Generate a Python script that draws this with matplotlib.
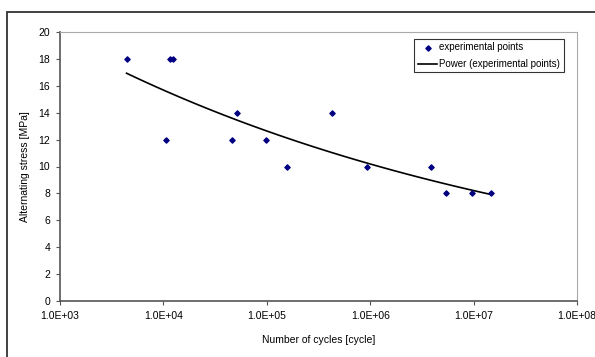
import numpy as np
import matplotlib.pyplot as plt
from matplotlib.patches import Rectangle

plt.rcParams['font.family'] = ['Liberation Sans', 'DejaVu Sans']

# experimental points
cycles = [4.4e3, 1.06e4, 1.16e4, 1.24e4, 4.6e4, 5.2e4, 9.8e4, 1.58e5,
          4.3e5, 9.4e5, 3.85e6, 5.4e6, 9.7e6, 1.48e7]
stress = [18, 12, 18, 18, 12, 14, 12, 10, 14, 10, 10, 8, 8, 8]

x_ticks = [1e3, 1e4, 1e5, 1e6, 1e7, 1e8]
x_labels = ["1.0E+03", "1.0E+04", "1.0E+05", "1.0E+06", "1.0E+07", "1.0E+08"]
y_ticks = [0, 2, 4, 6, 8, 10, 12, 14, 16, 18, 20]

# power trendline like Excel: ln y = ln a + b ln x
b, ln_a = np.polyfit(np.log(cycles), np.log(stress), 1)
xf = np.logspace(np.log10(min(cycles)), np.log10(max(cycles)), 100)
yf = np.exp(ln_a) * xf ** b

fig = plt.figure(figsize=(5.95, 3.57), dpi=100)
ax = fig.add_axes([60 / 595, 1 - 301 / 357, 517 / 595, 269 / 357])

# outer chart border (cropped on the right and bottom)
fig.patches.append(Rectangle((7 / 595, -0.1), 1.2, 1 - 12 / 357 + 0.1,
                             transform=fig.transFigure, fill=False,
                             edgecolor="#333333", linewidth=1.3))

ax.scatter(cycles, stress, marker="D", s=7, color="#000080", zorder=3,
           label="experimental points")
ax.plot(xf, yf, color="black", linewidth=1.2, label="Power (experimental points)")

ax.set_xscale("log")
ax.set_xlim(1e3, 1e8)
ax.set_ylim(0, 20)
ax.set_xticks(x_ticks)
ax.set_xticklabels(x_labels)
ax.xaxis.set_minor_locator(plt.NullLocator())
ax.set_yticks(y_ticks)
ax.tick_params(labelsize=7.5, length=3, width=0.8, color="#555555", pad=4)

for side in ["top", "right"]:
    ax.spines[side].set_color("#aaaaaa")
for side in ["left", "bottom"]:
    ax.spines[side].set_color("#555555")
    ax.spines[side].set_linewidth(1.2)

ax.set_xlabel("Number of cycles [cycle]", fontsize=7.5, labelpad=10)
ax.set_ylabel("Alternating stress [MPa]", fontsize=7.5, labelpad=6)

leg = ax.legend(loc="upper right", fontsize=7, frameon=True, fancybox=False,
                bbox_to_anchor=(0.974, 0.975), borderpad=0.35, handlelength=2.0,
                handletextpad=0.2, labelspacing=0.7, borderaxespad=0)
leg.get_frame().set_edgecolor("black")
leg.get_frame().set_linewidth(0.8)

fig.savefig("out.png", dpi=100)
